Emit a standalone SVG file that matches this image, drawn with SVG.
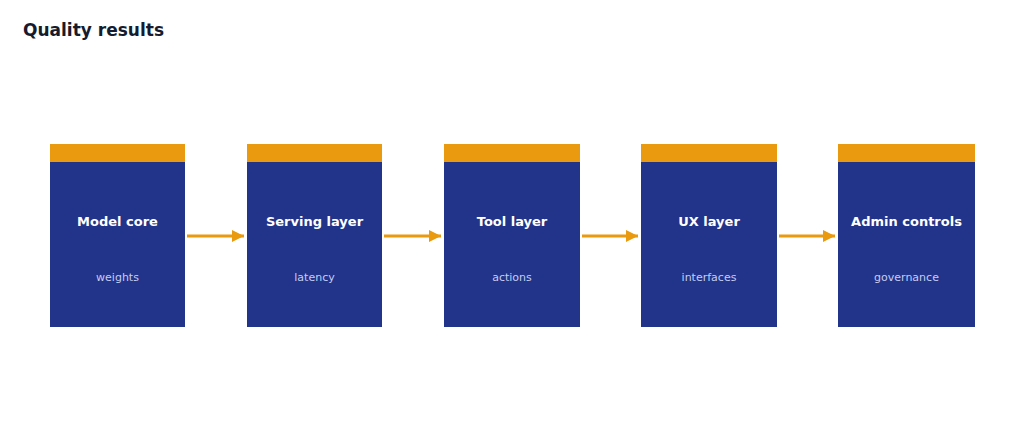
<svg xmlns="http://www.w3.org/2000/svg" width="1024" height="441" viewBox="0 0 1024 441">
<defs>
<style>
text{font-family:"DejaVu Sans",sans-serif}
.t{font-size:17px;font-weight:bold;fill:#161b2e}
.b{fill:#22338a}
.h{fill:#e99a0e}
.n{font-size:13px;font-weight:bold;fill:#fff;text-anchor:middle}
.s{font-size:11px;fill:#c5cdf2;text-anchor:middle}
.c{stroke:#e99a0e;stroke-width:3;fill:none}
</style>
<marker id="a" viewBox="0 0 10 10" refX="10" refY="5" markerWidth="4" markerHeight="4" markerUnits="strokeWidth" orient="auto"><path d="M0,0L10,5L0,10z" fill="#e99a0e"/></marker>
</defs>
<rect width="1024" height="441" fill="#fff"/>
<text class="t" x="23" y="36">Quality results</text>
<g id="n1"><rect class="b" x="50" y="162" width="135" height="165"/><rect class="h" x="50" y="144" width="135" height="18"/><text class="n" x="117.5" y="226">Model core</text><text class="s" x="117.5" y="281">weights</text></g>
<g id="n2"><rect class="b" x="247" y="162" width="135" height="165"/><rect class="h" x="247" y="144" width="135" height="18"/><text class="n" x="314.5" y="226">Serving layer</text><text class="s" x="314.5" y="281">latency</text></g>
<g id="n3"><rect class="b" x="444" y="162" width="136" height="165"/><rect class="h" x="444" y="144" width="136" height="18"/><text class="n" x="512" y="226">Tool layer</text><text class="s" x="512" y="281">actions</text></g>
<g id="n4"><rect class="b" x="641" y="162" width="136" height="165"/><rect class="h" x="641" y="144" width="136" height="18"/><text class="n" x="709" y="226">UX layer</text><text class="s" x="709" y="281">interfaces</text></g>
<g id="n5"><rect class="b" x="838" y="162" width="137" height="165"/><rect class="h" x="838" y="144" width="137" height="18"/><text class="n" x="906.5" y="226">Admin controls</text><text class="s" x="906.5" y="281">governance</text></g>
<g id="connectors">
<path class="c" d="M187,236H244" marker-end="url(#a)"/>
<path class="c" d="M384,236H441" marker-end="url(#a)"/>
<path class="c" d="M582,236H638" marker-end="url(#a)"/>
<path class="c" d="M779,236H835" marker-end="url(#a)"/>
</g>
</svg>
